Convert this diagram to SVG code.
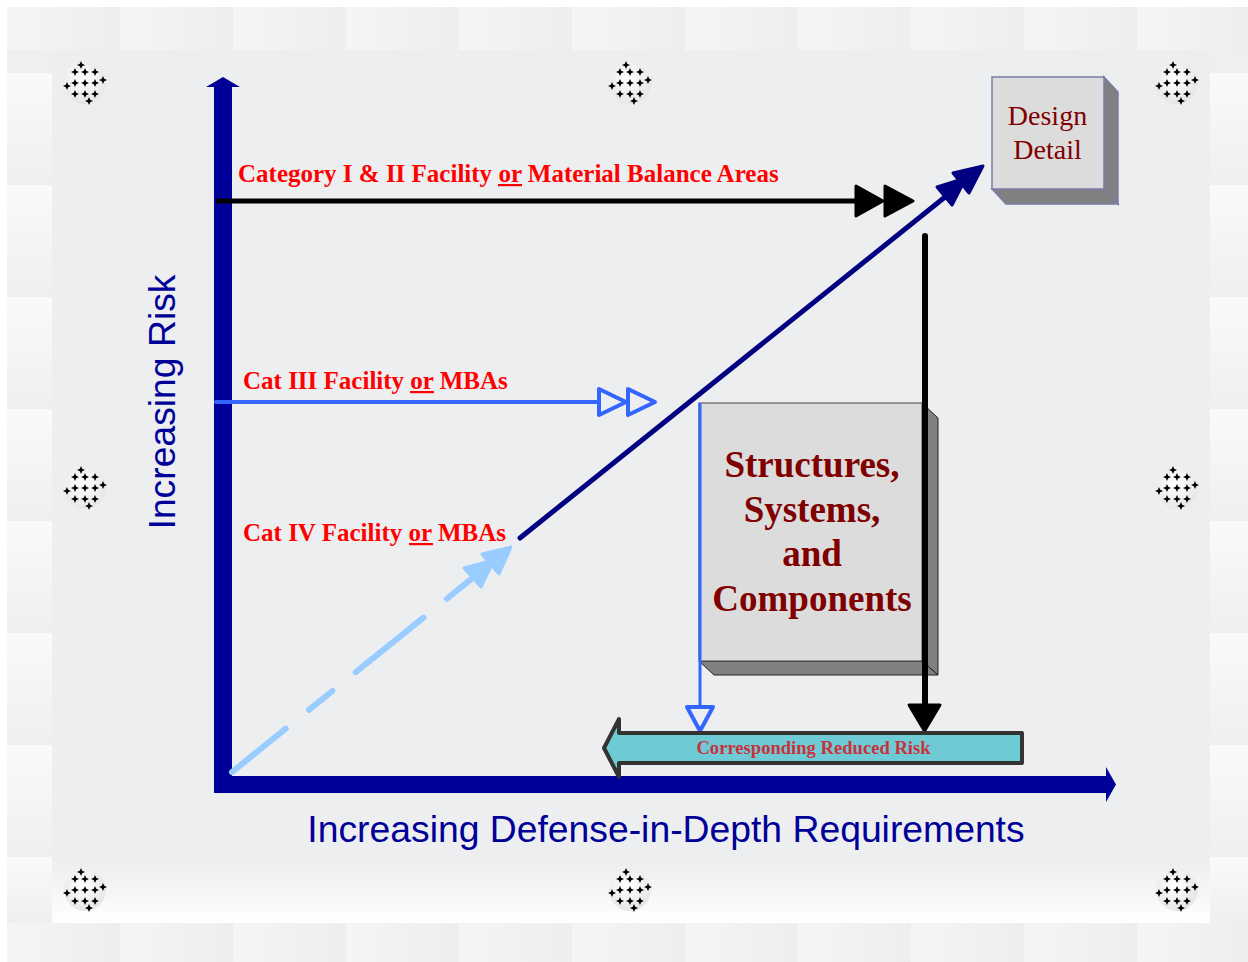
<svg xmlns="http://www.w3.org/2000/svg" width="1248" height="962" viewBox="0 0 1248 962">
<style>
.lbl{font-family:"Liberation Serif","Times New Roman",serif;font-weight:bold;font-size:25px;fill:#ff0000}
.axl{font-family:"Liberation Sans",Arial,sans-serif;font-size:37.3px;fill:#000099}
.ssc{font-family:"Liberation Serif","Times New Roman",serif;font-weight:bold;font-size:37px;fill:#800000;text-anchor:middle}
.dd{font-family:"Liberation Serif","Times New Roman",serif;font-size:28px;fill:#800000;text-anchor:middle}
.crr{font-family:"Liberation Serif","Times New Roman",serif;font-weight:bold;font-size:18.6px;fill:#c8323c;text-anchor:middle}
.face{fill:#dcdcdc}
.side{fill:#808080}
.ttile{fill:url(#gTop)}
.stile{fill:url(#gSide)}
.star{fill:#000}
</style>
<defs>
<linearGradient id="gTop" x1="0" y1="0" x2="1" y2="0"><stop offset="0" stop-color="#f5f5f6"/><stop offset="1" stop-color="#eceef0"/></linearGradient>
<linearGradient id="gSide" x1="0" y1="0" x2="0" y2="1"><stop offset="0" stop-color="#fafafa"/><stop offset="1" stop-color="#eeeff1"/></linearGradient>
<linearGradient id="gBand" x1="0" y1="0" x2="0" y2="1"><stop offset="0" stop-color="#ecedef"/><stop offset="1" stop-color="#ffffff"/></linearGradient>
<radialGradient id="gOrn" cx="0.45" cy="0.4" r="0.6"><stop offset="0" stop-color="#ffffff"/><stop offset="1" stop-color="#e6e6e8"/></radialGradient>
<path id="st" d="M0,-4 L1.2,-1.2 L4,0 L1.2,1.2 L0,4 L-1.2,1.2 L-4,0 L-1.2,-1.2Z"/>
<g id="orn">
<circle r="21" fill="url(#gOrn)"/>
<use href="#st" class="star" x="-10" y="-11"/><use href="#st" class="star" x="0" y="-11"/><use href="#st" class="star" x="10" y="-11"/>
<use href="#st" class="star" x="-10" y="0"/><use href="#st" class="star" x="0" y="0"/><use href="#st" class="star" x="10" y="0"/>
<use href="#st" class="star" x="-10" y="11"/><use href="#st" class="star" x="0" y="11"/><use href="#st" class="star" x="10" y="11"/>
<use href="#st" class="star" x="-4" y="-18"/><use href="#st" class="star" x="18" y="-3"/><use href="#st" class="star" x="4" y="18"/><use href="#st" class="star" x="-18" y="3"/>
</g>
</defs>

<g id="background">
<rect x="0" y="0" width="1248" height="962" fill="#ffffff"/>
<rect x="7" y="7" width="1241" height="955" fill="#eeeff1"/>
<g id="top-tiles">
<rect class="ttile" x="7" y="7" width="113" height="43"/><rect class="ttile" x="120" y="7" width="113" height="43"/><rect class="ttile" x="233" y="7" width="113" height="43"/><rect class="ttile" x="346" y="7" width="113" height="43"/><rect class="ttile" x="459" y="7" width="113" height="43"/><rect class="ttile" x="572" y="7" width="113" height="43"/><rect class="ttile" x="685" y="7" width="113" height="43"/><rect class="ttile" x="798" y="7" width="113" height="43"/><rect class="ttile" x="911" y="7" width="113" height="43"/><rect class="ttile" x="1024" y="7" width="113" height="43"/><rect class="ttile" x="1137" y="7" width="111" height="43"/>
</g>
<g id="bottom-tiles">
<rect class="ttile" x="7" y="923" width="113" height="39"/><rect class="ttile" x="120" y="923" width="113" height="39"/><rect class="ttile" x="233" y="923" width="113" height="39"/><rect class="ttile" x="346" y="923" width="113" height="39"/><rect class="ttile" x="459" y="923" width="113" height="39"/><rect class="ttile" x="572" y="923" width="113" height="39"/><rect class="ttile" x="685" y="923" width="113" height="39"/><rect class="ttile" x="798" y="923" width="113" height="39"/><rect class="ttile" x="911" y="923" width="113" height="39"/><rect class="ttile" x="1024" y="923" width="113" height="39"/><rect class="ttile" x="1137" y="923" width="111" height="39"/>
</g>
<g id="left-tiles">
<rect class="stile" x="7" y="73" width="45" height="112"/><rect class="stile" x="7" y="185" width="45" height="112"/><rect class="stile" x="7" y="297" width="45" height="112"/><rect class="stile" x="7" y="409" width="45" height="112"/><rect class="stile" x="7" y="521" width="45" height="112"/><rect class="stile" x="7" y="633" width="45" height="112"/><rect class="stile" x="7" y="745" width="45" height="112"/><rect class="stile" x="7" y="857" width="45" height="66"/>
</g>
<g id="right-tiles">
<rect class="stile" x="1210" y="73" width="38" height="112"/><rect class="stile" x="1210" y="185" width="38" height="112"/><rect class="stile" x="1210" y="297" width="38" height="112"/><rect class="stile" x="1210" y="409" width="38" height="112"/><rect class="stile" x="1210" y="521" width="38" height="112"/><rect class="stile" x="1210" y="633" width="38" height="112"/><rect class="stile" x="1210" y="745" width="38" height="112"/><rect class="stile" x="1210" y="857" width="38" height="66"/>
</g>
<rect x="52" y="50" width="1158" height="873" fill="#edeef0"/>
<rect x="52" y="857" width="1158" height="66" fill="url(#gBand)"/>
<g id="ornaments">
<use href="#orn" x="85" y="83"/><use href="#orn" x="630" y="83"/><use href="#orn" x="1177" y="83"/>
<use href="#orn" x="85" y="488"/><use href="#orn" x="1177" y="488"/>
<use href="#orn" x="85" y="890"/><use href="#orn" x="630" y="890"/><use href="#orn" x="1177" y="890"/>
</g>
</g>

<g id="axes" fill="#000099">
<polygon points="214,793 214,87 206,87 223,77 240,87 232,87 232,776 1106,776 1106,767 1116,784.5 1106,802 1106,793"/>
</g>

<g id="connectors" stroke-linecap="round" stroke-linejoin="round">
<g id="cat12-line">
<line x1="216" y1="201" x2="858" y2="201" stroke="#000" stroke-width="5" stroke-linecap="butt"/>
<polygon points="856,186 883,201 856,216" fill="#000" stroke="#000" stroke-width="3"/>
<polygon points="885,186 913,201 885,216" fill="#000" stroke="#000" stroke-width="3"/>
</g>
<g id="cat3-line" stroke="#3366ff" stroke-width="4" fill="none">
<line x1="216" y1="402" x2="599" y2="402"/>
<polygon points="599,389 626,402 599,415"/>
<polygon points="628,389 655,402 628,415"/>
</g>
<g id="cat4-dashed">
<line x1="232" y1="772" x2="475" y2="576" stroke="#99ccff" stroke-width="6" stroke-dasharray="87 30 30 30" stroke-dashoffset="18"/>
<polygon points="464,568 494,560 481,587" fill="#99ccff" stroke="#99ccff" stroke-width="3"/>
<polygon points="482,554 511,547 499,574" fill="#99ccff" stroke="#99ccff" stroke-width="3"/>
</g>
<g id="diagonal">
<line x1="520" y1="538" x2="960" y2="185" stroke="#000080" stroke-width="5"/>
<polygon points="937,187 966,178 952,205" fill="#000080" stroke="#000080" stroke-width="3"/>
<polygon points="953,173 983,166 969,193" fill="#000080" stroke="#000080" stroke-width="3"/>
</g>
</g>

<g id="design-detail">
<polygon class="side" points="1104,77 1118,92 1118,204 1104,189" stroke="#7b7ba8" stroke-width="1.5"/>
<polygon class="side" points="992,189 1104,189 1118,204 1006,204" stroke="#7b7ba8" stroke-width="1.5"/>
<rect class="face" x="992" y="77" width="112" height="112" stroke="#7b7ba8" stroke-width="1.5"/>
<text class="dd" x="1047.5" y="125">Design</text>
<text class="dd" x="1047.5" y="159">Detail</text>
</g>

<g id="ssc">
<polygon class="side" points="922,403 938,418 938,675 922,661" stroke="#222" stroke-width="1"/>
<polygon class="side" points="699,661 922,661 938,675 714,675" stroke="#222" stroke-width="1"/>
<rect class="face" x="699" y="403" width="223" height="258" stroke="#444" stroke-width="1"/>
<text class="ssc" x="812" y="477">Structures,</text>
<text class="ssc" x="812" y="522">Systems,</text>
<text class="ssc" x="812" y="566">and</text>
<text class="ssc" x="812" y="611">Components</text>
</g>

<g id="drop-connectors" stroke-linejoin="round">
<g id="ssc-to-risk" stroke="#3366ff" fill="none">
<line x1="700" y1="403" x2="700" y2="707" stroke-width="3"/>
<polygon points="687,707 713,707 700,731" stroke-width="4"/>
</g>
<g id="design-to-risk">
<line x1="925" y1="236" x2="925" y2="706" stroke="#000" stroke-width="6" stroke-linecap="round"/>
<polygon points="909,705 940,705 924.5,731" fill="#000" stroke="#000" stroke-width="3"/>
</g>
</g>

<g id="reduced-risk">
<polygon points="604,748 619,719 619,733 1022,733 1022,763 619,763 619,777" fill="#6ecbd5" stroke="#333333" stroke-width="4" stroke-linejoin="round"/>
<text class="crr" x="813.5" y="753.5">Corresponding Reduced Risk</text>
</g>

<g id="labels">
<text class="lbl" x="238" y="182">Category I &amp; II Facility <tspan>or</tspan> Material Balance Areas</text>
<rect x="498" y="184" width="24" height="2.2" fill="#ff0000"/>
<text class="lbl" x="243" y="389">Cat III Facility <tspan>or</tspan> MBAs</text>
<rect x="410" y="391" width="24" height="2.2" fill="#ff0000"/>
<text class="lbl" x="243" y="541">Cat IV Facility <tspan>or</tspan> MBAs</text>
<rect x="409" y="543" width="24" height="2.2" fill="#ff0000"/>
<text class="axl" transform="translate(175,402) rotate(-90)" text-anchor="middle">Increasing Risk</text>
<text class="axl" x="666" y="842" text-anchor="middle">Increasing Defense-in-Depth Requirements</text>
</g>
</svg>
